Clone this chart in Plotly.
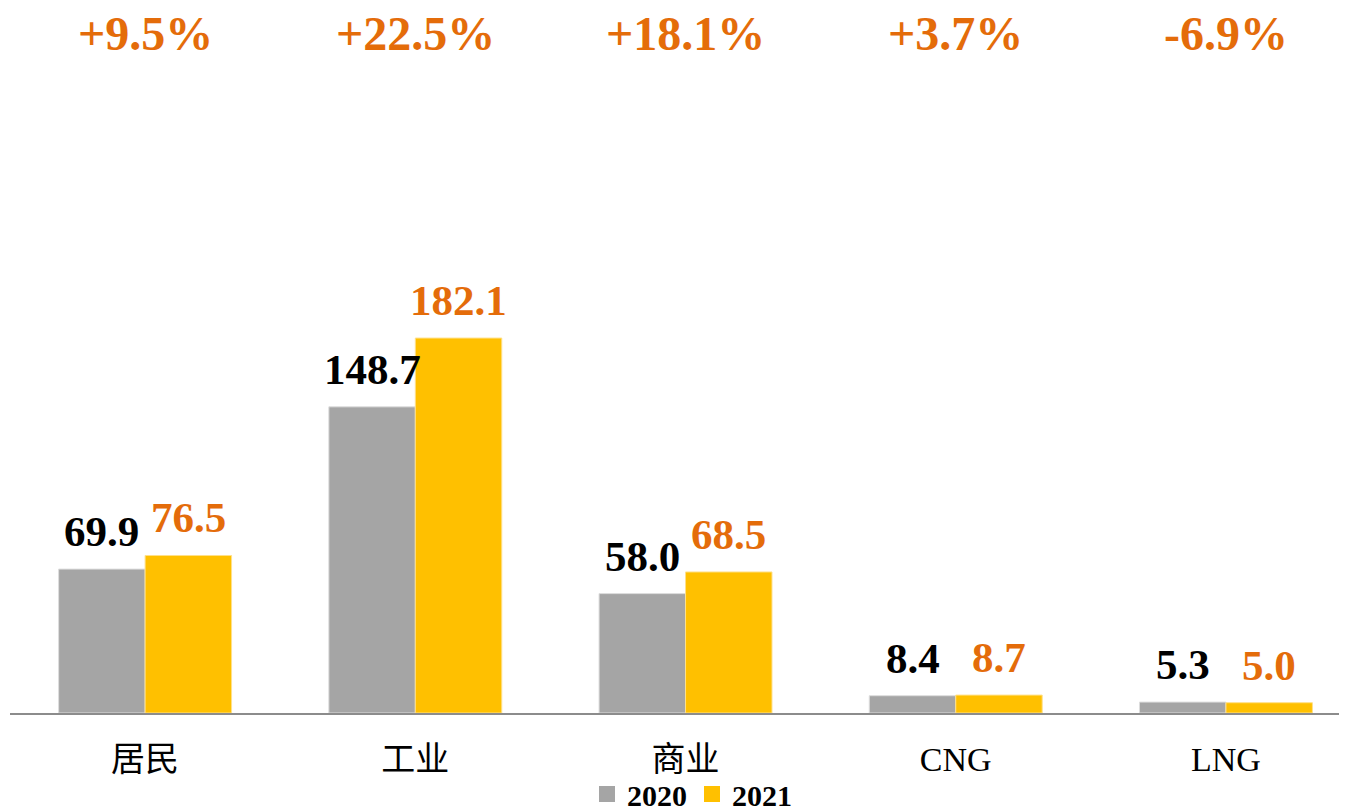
import plotly.graph_objects as go

categories = ["居民", "工业", "商业", "CNG", "LNG"]
values_2020 = [69.9, 148.7, 58.0, 8.4, 5.3]
values_2021 = [76.5, 182.1, 68.5, 8.7, 5.0]
growth_labels = ["+9.5%", "+22.5%", "+18.1%", "+3.7%", "-6.9%"]
series_names = ["2020", "2021"]

GRAY = "#A5A5A5"
GOLD = "#FFC000"
ORANGE = "#E46C0A"
SERIF = "Liberation Serif, Times New Roman, serif"
CJK = "Liberation Serif, Noto Sans CJK SC, serif"

# page has an 8px body margin, so the figure is sized to fit the window
W, H = 1339, 804
PLOT_H = 705

xs = list(range(len(categories)))
off = 0.16

fig = go.Figure()
fig.add_trace(go.Bar(x=xs, y=values_2020, name=series_names[0], showlegend=False,
                     marker=dict(color=GRAY, line=dict(color="#DDDDDD", width=1))))
fig.add_trace(go.Bar(x=xs, y=values_2021, name=series_names[1], showlegend=False,
                     marker=dict(color=GOLD, line=dict(color="#FFE08A", width=1))))
for name, col in zip(series_names, [GRAY, GOLD]):
    fig.add_trace(go.Scatter(x=[None], y=[None], mode="markers", name=f"<b>{name}</b>",
                             marker=dict(symbol="square", size=17, color=col), showlegend=True))

anns = []
for i, (a, b) in enumerate(zip(values_2020, values_2021)):
    anns.append(dict(x=i - off, y=a, xref="x", yref="y", text=f"<b>{a:.1f}</b>",
                     showarrow=False, yanchor="bottom", yshift=12,
                     font=dict(family=SERIF, size=43, color="black")))
    anns.append(dict(x=i + off, y=b, xref="x", yref="y", text=f"<b>{b:.1f}</b>",
                     showarrow=False, yanchor="bottom", yshift=12,
                     font=dict(family=SERIF, size=43, color=ORANGE)))
    anns.append(dict(x=i, y=1 - 25 / PLOT_H, xref="x", yref="paper", text=f"<b>{growth_labels[i]}</b>",
                     showarrow=False, yanchor="middle",
                     font=dict(family=SERIF, size=48, color=ORANGE)))

fig.update_layout(
    width=W, height=H,
    margin=dict(l=2, r=0, t=0, b=H - PLOT_H, autoexpand=False),
    paper_bgcolor="white", plot_bgcolor="white",
    barmode="group", bargap=0.36, bargroupgap=0,
    showlegend=True,
    legend=dict(orientation="h", xref="container", yref="container",
                x=684 / W, xanchor="center", y=1 - 786 / H, yanchor="middle",
                font=dict(family=SERIF, size=30, color="black"),
                itemsizing="trace", traceorder="normal", tracegroupgap=0,
                bgcolor="rgba(0,0,0,0)"),
    annotations=anns,
    xaxis=dict(tickmode="array", tickvals=xs, ticktext=categories,
               range=[-0.5, 4.448], showgrid=False, zeroline=False, automargin=False,
               showline=True, linecolor="#8C8C8C", linewidth=2,
               ticks="outside", ticklen=15, tickcolor="rgba(0,0,0,0)",
               tickfont=dict(family=CJK, size=34, color="black")),
    yaxis=dict(range=[0, 342.4], visible=False, showgrid=False, zeroline=False, automargin=False),
)
fig.write_html("out.html")
